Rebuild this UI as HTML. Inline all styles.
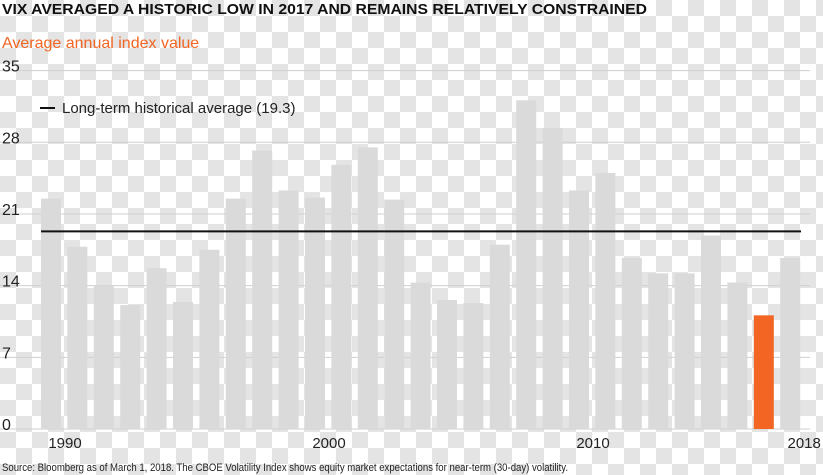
<!DOCTYPE html>
<html><head><meta charset="utf-8"><style>
body{margin:0;width:823px;height:475px;overflow:hidden;font-family:"Liberation Sans",sans-serif;
background-color:#fff;background-image:linear-gradient(45deg,#e4e4e4 25%,transparent 25%,transparent 75%,#e4e4e4 75%),linear-gradient(45deg,#e4e4e4 25%,transparent 25%,transparent 75%,#e4e4e4 75%);background-size:32px 32px;background-position:0 0,16px 16px;}
svg{position:absolute;left:0;top:0}
</style></head><body>
<svg width="823" height="475">
<text x="2" y="14" font-size="15" font-weight="bold" fill="#111" textLength="645" lengthAdjust="spacingAndGlyphs">VIX AVERAGED A HISTORIC LOW IN 2017 AND REMAINS RELATIVELY CONSTRAINED</text>
<text x="2" y="48" font-size="16" fill="#f26522">Average annual index value</text>
<g id="grid"></g><g id="bars"></g><g id="axis"></g>
<line x1="40" x2="55" y1="108" y2="108" stroke="#111" stroke-width="2"/>
<text x="62" y="113" font-size="15" fill="#222">Long-term historical average (19.3)</text>
<text x="2" y="471" font-size="11" fill="#222" textLength="566" lengthAdjust="spacingAndGlyphs">Source: Bloomberg as of March 1, 2018. The CBOE Volatility Index shows equity market expectations for near-term (30-day) volatility.</text>
</svg>
<script>
const years=[1990,1991,1992,1993,1994,1995,1996,1997,1998,1999,2000,2001,2002,2003,2004,2005,2006,2007,2008,2009,2010,2011,2012,2013,2014,2015,2016,2017,2018];
const values=[22.5,17.8,14.0,12.1,15.7,12.4,17.5,22.5,27.2,23.3,22.6,25.8,27.5,22.4,14.3,12.6,12.3,18.0,32.1,29.4,23.3,25.0,16.7,15.2,15.2,18.9,14.3,11.1,16.7];
const yTicks=[0,7,14,21,28,35];
const xLabels=[1990,2000,2010,2018];
const average=19.3;
const highlightYear=2017;
const NS="http://www.w3.org/2000/svg";
const y=v=>429-v*10.24;
const x=yr=>51+(yr-1990)*26.4;
function mk(tag,at,parent){const e=document.createElementNS(NS,tag);for(const k in at)e.setAttribute(k,at[k]);document.getElementById(parent).appendChild(e);return e;}
yTicks.forEach(t=>{
 const l=mk('line',{x1:0,x2:810,y1:y(t),y2:y(t),stroke:'#cfcfcf','stroke-width':1},'grid');
 
 
 const tx=mk('text',{x:2,y:y(t)+1,'font-size':16,fill:'#222'},'axis');
 tx.textContent=t;
 
 
});
years.forEach((yr,i)=>{
 const r=mk('rect',{x:x(yr)-10,y:y(values[i]),width:20,height:y(0)-y(values[i]),fill:yr===highlightYear?'#f26522':'#dadada'},'bars');
 
 
});
xLabels.forEach(yr=>{
 const tx=mk('text',{x:x(yr)+14,y:448,'font-size':15,fill:'#222','text-anchor':'middle'},'axis');
 tx.textContent=yr;
 
 
});
const al=mk('line',{x1:41,x2:801,y1:y(average),y2:y(average),stroke:'#111','stroke-width':2},'axis');


</script>
</body></html>
